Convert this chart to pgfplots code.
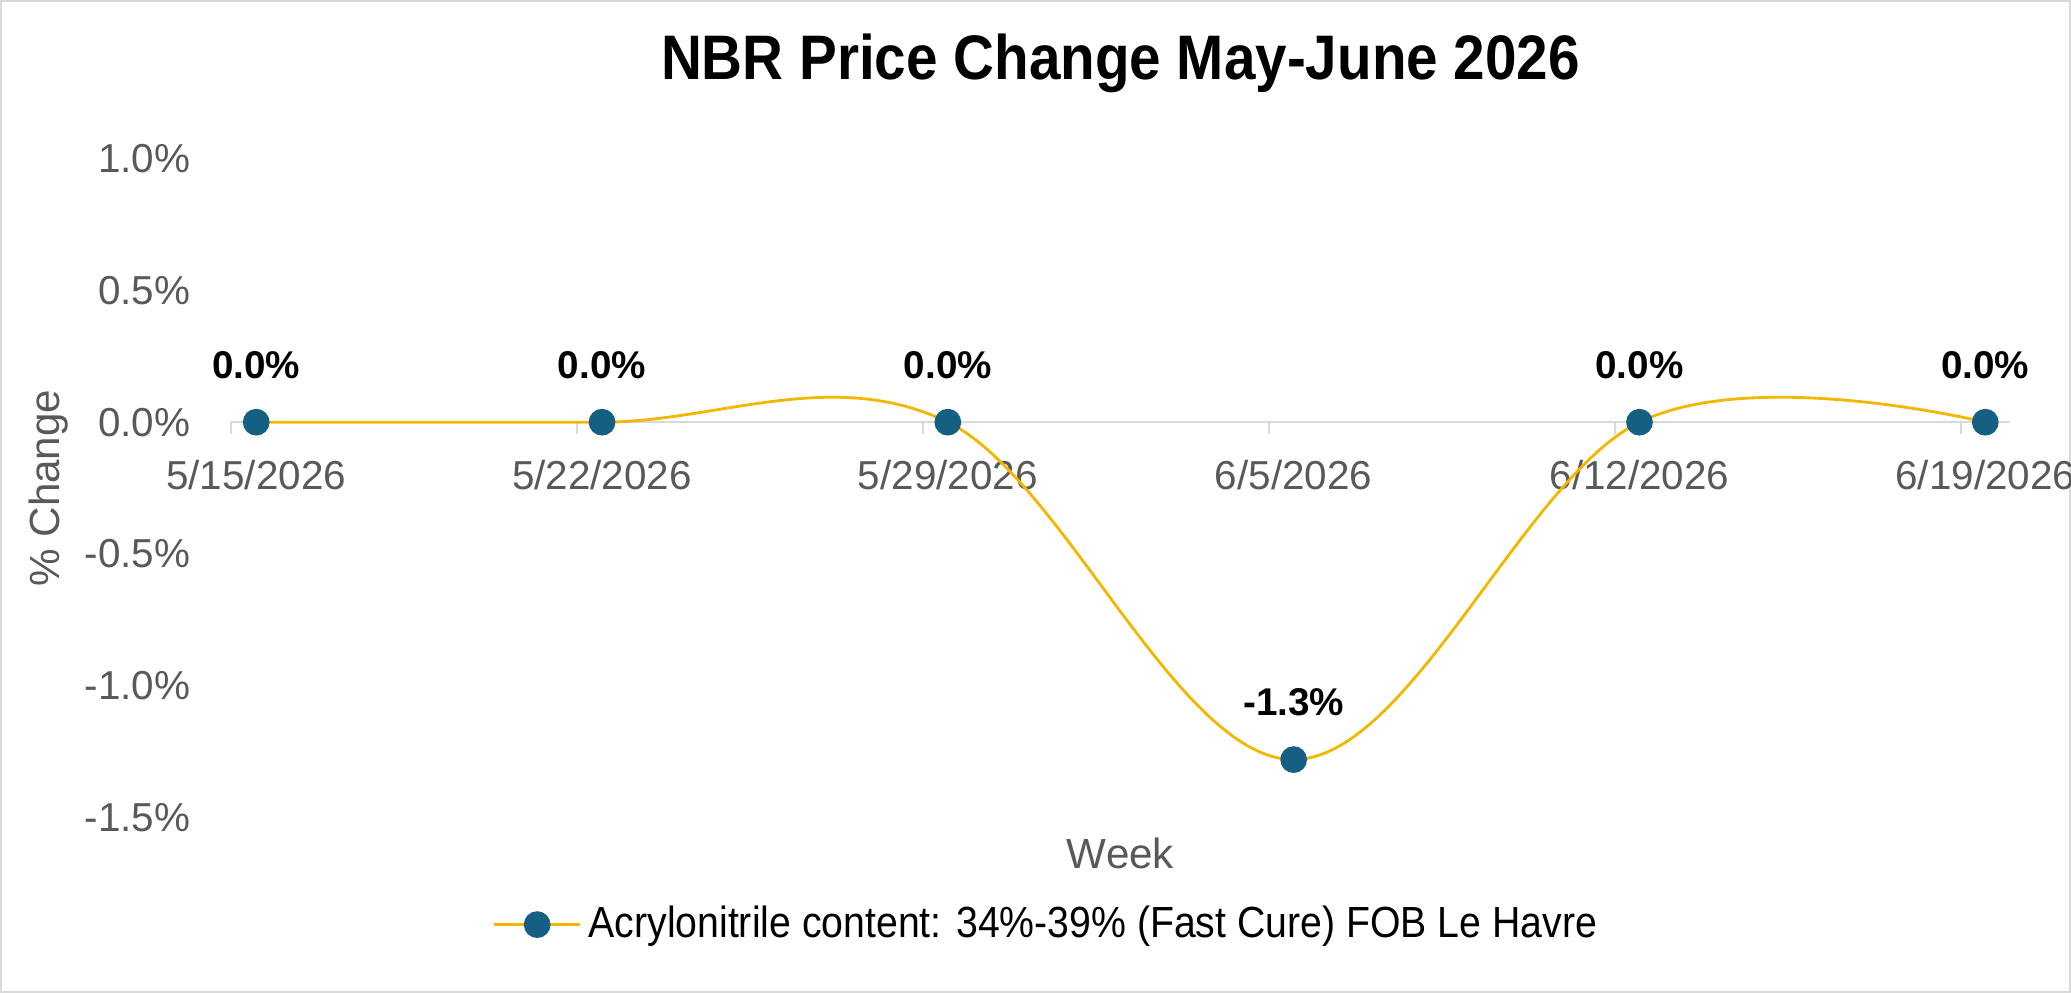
\documentclass[border=0pt]{standalone}
\usepackage{fontspec}
\setmainfont{Liberation Sans}
\newfontfamily\narrowfont[FakeStretch=0.9]{Liberation Sans}
\usepackage{pgfplots}
\pgfplotsset{compat=1.18}
\definecolor{tickgray}{HTML}{595959}
\definecolor{axgray}{HTML}{D9D9D9}
\definecolor{linegold}{HTML}{F2B800}
\definecolor{mkblue}{HTML}{156082}
\begin{document}
\begin{tikzpicture}
\useasboundingbox (0,0) rectangle (20.71,9.93);
\fill[white] (0,0) rectangle (20.71,9.93);
\draw[axgray, line width=0.02cm] (0.01,0.01) rectangle (20.70,9.92);
\begin{axis}[
  at={(2.31cm,1.754cm)}, anchor=south west,
  scale only axis, width=17.79cm, height=6.59cm,
  xmin=0.99, xmax=37, ymin=-1.5, ymax=1.0,
  axis x line=middle, axis y line=left,
  y axis line style={draw=none},
  x axis line style={-, draw=axgray, line width=0.02cm},
  xtick={1,8,15,22,29,36},
  xticklabels={5/15/2026,5/22/2026,5/29/2026,6/5/2026,6/12/2026,6/19/2026},
  ytick={-1.5,-1,-0.5,0,0.5,1},
  yticklabels={-1.5\%,-1.0\%,-0.5\%,0.0\%,0.5\%,1.0\%},
  major tick length=0.12cm,
  xtick style={draw=axgray, line width=0.02cm, yshift=-0.06cm},
  ytick style={draw=none},
  tick label style={font=\fontsize{11.5}{13}\selectfont, text=tickgray},
  yticklabel style={anchor=east, inner sep=0pt, xshift=-0.34cm},
  xticklabel style={anchor=center, inner sep=0pt, yshift=-0.47cm, xshift=0.247cm},
  clip=false,
  every axis title shift=0pt,
  title={NBR Price Change May-June 2026},
  title style={at={(rel axis cs:0.5,1.145)}, anchor=center, font=\narrowfont\bfseries\fontsize{17.9}{20}\selectfont, text=black},
  xlabel={Week},
  xlabel style={at={(rel axis cs:0.5,-0.0537)}, anchor=center, font=\fontsize{12}{14}\selectfont, text=tickgray},
  ylabel={\% Change},
  ylabel style={at={(rel axis cs:-0.1023,0.5)}, anchor=center, font=\fontsize{12}{14}\selectfont, text=tickgray},
  legend style={at={(rel axis cs:0.4595,-0.1624)}, anchor=center, draw=none, fill=none,
    font=\narrowfont\fontsize{12.4}{14}\selectfont, text=black},
  legend image code/.code={\draw[mark repeat=2, mark phase=2, #1] plot coordinates {(0cm,0cm) (0.43cm,0cm) (0.86cm,0cm)};},
]
\addplot[linegold, line width=0.8pt, smooth, tension=0.6,
  mark=*, mark size=3.4pt, mark options={draw=mkblue, fill=mkblue},
  nodes near coords, point meta=explicit symbolic,
  every node near coord/.append style={font=\bfseries\fontsize{11}{13}\selectfont, text=black, anchor=center, yshift=0.57cm}]
coordinates {(1.5,0)[0.0\%] (8.5,0)[0.0\%] (15.5,0)[0.0\%] (22.5,-1.28)[-1.3\%] (29.5,0)[0.0\%] (36.5,0)[0.0\%]};
\addlegendentry{Acrylonitrile content: 34\%-39\% (Fast Cure) FOB Le Havre}
\end{axis}
\end{tikzpicture}
\end{document}
